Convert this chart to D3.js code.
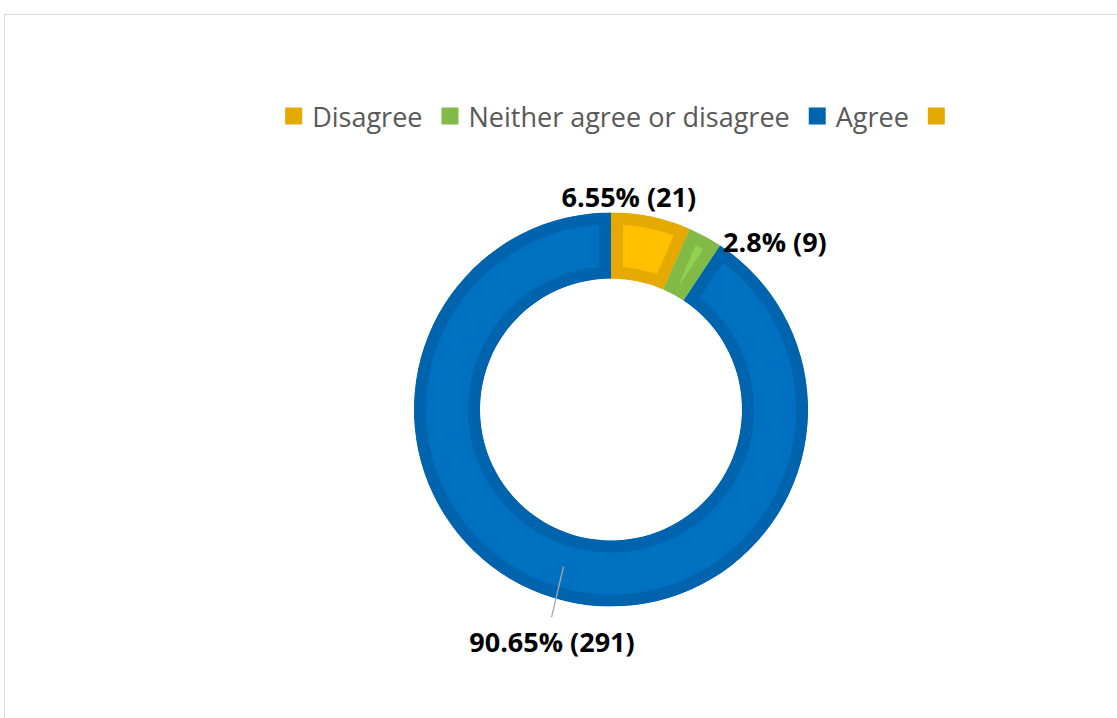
<!DOCTYPE html>
<html><head><meta charset="utf-8">
<script src="https://cdn.jsdelivr.net/npm/d3@7"></script>
<style>html,body{margin:0;padding:0;background:#fff;}svg{display:block;}</style>
</head><body>
<svg id="chart" width="1117" height="718"></svg>
<script>
// ---- data ----
const categories = ["Disagree", "Neither agree or disagree", "Agree", ""];
const counts = [21, 9, 291, 0];
const percentLabels = ["6.55%", "2.8%", "90.65%", ""];
const fillColors = ["#FFC000", "#92D050", "#0070C0", "#FFC000"];
const borderColors = ["#E6A900", "#82BA48", "#0063AD", "#E6A900"];

// ---- layout ----
const W = 1117, H = 718;
const cx = 611, cy = 409.5, rOuter = 197, rInner = 131;
const svg = d3.select("#chart");

// frame
svg.append("rect").attr("x", 4.5).attr("y", 14.5).attr("width", W + 20).attr("height", H + 20)
  .attr("fill", "#fff").attr("stroke", "#d9d9d9").attr("stroke-width", 1);

const pie = d3.pie().sort(null).value(d => d)(counts);
const arc = d3.arc().innerRadius(rInner).outerRadius(rOuter);
const g = svg.append("g").attr("transform", `translate(${cx},${cy})`);
const defs = svg.append("defs");

pie.forEach((p, i) => {
  if (p.value <= 0) return;
  const id = "clip" + i;
  defs.append("clipPath").attr("id", id).append("path").attr("d", arc(p));
  g.append("path").attr("d", arc(p)).attr("fill", fillColors[i])
    .attr("stroke", borderColors[i]).attr("stroke-width", 24)
    .attr("stroke-linejoin", "miter")
    .attr("clip-path", `url(#${id})`);
});

// labels
const labelFont = "'Open Sans', 'Noto Sans', sans-serif";
const labelCfg = [
  {r: 214, angleShift: -0.122},
  {r: 235, angleShift: 0.273},
  {r: 239, angleShift: -0.044, leader: true}
];
pie.forEach((p, i) => {
  if (p.value <= 0 || !labelCfg[i]) return;
  const c = labelCfg[i];
  const mid = (p.startAngle + p.endAngle) / 2 + c.angleShift;
  const x = c.r * Math.sin(mid), y = -c.r * Math.cos(mid);
  if (c.leader) {
    const [mx, my] = arc.centroid(p);
    const a = (p.startAngle + p.endAngle) / 2;
    const r2 = 216;
    g.append("line").attr("x1", mx).attr("y1", my)
      .attr("x2", r2 * Math.sin(a - 0.015)).attr("y2", -r2 * Math.cos(a - 0.015))
      .attr("stroke", "#a6a6a6").attr("stroke-width", 1.3);
  }
  g.append("text").attr("x", x).attr("y", y).attr("text-anchor", "middle")
    .attr("dominant-baseline", "central")
    .attr("font-family", labelFont).attr("font-weight", "bold").attr("font-size", 27)
    .attr("fill", "#000")
    .text(`${percentLabels[i]} (${counts[i]})`);
});

// legend
const legend = svg.append("g");
const legendY = 116, sw = 17, gapMarker = 10, gapItem = 19;
const items = categories.map((c, i) => {
  const it = legend.append("g");
  it.append("rect").attr("width", sw).attr("height", sw).attr("y", -sw / 2).attr("fill", borderColors[i]);
  const t = it.append("text").attr("x", sw + gapMarker).attr("y", 0).attr("dominant-baseline", "central")
    .attr("font-family", labelFont).attr("font-size", 27).attr("fill", "#595959").text(c);
  const tw = c ? t.node().getComputedTextLength() : 0;
  return {it, w: sw + (c ? gapMarker + tw : 0)};
});
const total = d3.sum(items, d => d.w) + gapItem * (items.length - 1);
let xPos = 615 - total / 2;
items.forEach(d => { d.it.attr("transform", `translate(${xPos},${legendY})`); xPos += d.w + gapItem; });
</script>
</body></html>
